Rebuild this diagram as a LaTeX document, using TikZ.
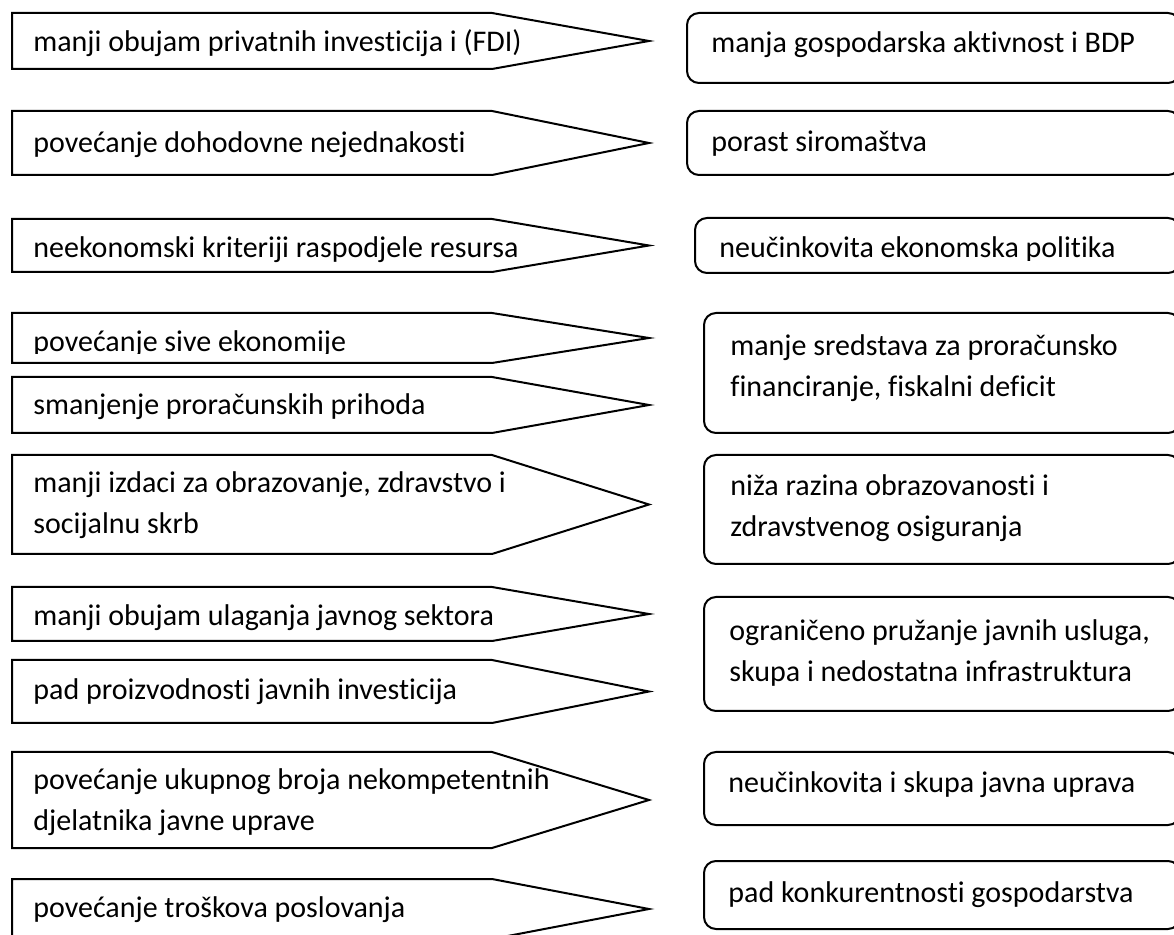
\documentclass[tikz,border=0pt]{standalone}
\usepackage{fontspec}
\setmainfont{Carlito}[Ligatures={NoCommon}]

\tikzset{
  arrowbox/.style={draw, line width=1pt, line join=miter},
  roundbox/.style={draw, line width=1pt, rounded corners=6pt},
  txt/.style={anchor=base west, inner sep=0pt, align=left,
    font=\fontsize{15}{20.5}\selectfont}
}

\begin{document}
\begin{tikzpicture}[x=0.5pt,y=-0.5pt]
   \useasboundingbox (0,0) rectangle (1174,935);

   % left column: arrow boxes
   \foreach \t/\b in {13/69, 111/175, 219/272, 313/363, 377/433,
                      455/554, 587/641, 660/723, 752/848, 879/939}
   \draw[arrowbox] (12,\t) -- (492,\t) -- (649,{(\t+\b)/2}) -- (492,\b) -- (12,\b) -- cycle;

   % right column: rounded boxes
   \draw[roundbox] (687,13) rectangle (1180,83);
   \draw[roundbox] (687,111) rectangle (1180,175);
   \draw[roundbox] (695,218) rectangle (1180,273);
   \draw[roundbox] (704,313) rectangle (1180,433);
   \draw[roundbox] (704,455) rectangle (1180,564);
   \draw[roundbox] (704,597) rectangle (1180,711);
   \draw[roundbox] (704,752) rectangle (1180,825);
   \draw[roundbox] (704,861) rectangle (1180,929);

   % two-line nodes sit on their last baseline
   \node[txt] (L1) at (33,52) {manji obujam privatnih investicija i (FDI)};
   \node[txt] (L2) at (33,153) {povećanje dohodovne nejednakosti};
   \node[txt] (L3) at (33,258) {neekonomski kriteriji raspodjele resursa};
   \begin{scope}
     \clip (0,300) rectangle (660,354);
     \node[txt] (L4) at (33,352) {povećanje sive ekonomije};
   \end{scope}
   \node[txt] (L5) at (33,415) {smanjenje proračunskih prihoda};
   \node[txt] (L6) at (33,534) {manji izdaci za obrazovanje, zdravstvo i\\socijalnu skrb};
   \node[txt] (L7) at (33,626) {manji obujam ulaganja javnog sektora};
   \node[txt] (L8) at (33,700) {pad proizvodnosti javnih investicija};
   \node[txt] (L9) at (33,830) {povećanje ukupnog broja nekompetentnih\\djelatnika javne uprave};
   \node[txt] (L10) at (33,917) {povećanje troškova poslovanja};

   \node[txt] (R1) at (711,53) {manja gospodarska aktivnost i BDP};
   \node[txt] (R2) at (711,152) {porast siromaštva};
   \begin{scope}
     \clip (660,200) rectangle (1174,261);
     \node[txt] (R3) at (719,258) {neučinkovita ekonomska politika};
   \end{scope}
   \node[txt] (R4) at (730,397) {manje sredstava za proračunsko\\financiranje, fiskalni deficit};
   \node[txt] (R5) at (730,537) {niža razina obrazovanosti i\\zdravstvenog osiguranja};
   \node[txt] (R6) at (729,682) {ograničeno pružanje javnih usluga,\\skupa i nedostatna infrastruktura};
   \node[txt] (R7) at (728,792) {neučinkovita i skupa javna uprava};
   \node[txt] (R8) at (728,902) {pad konkurentnosti gospodarstva};

\end{tikzpicture}
\end{document}
